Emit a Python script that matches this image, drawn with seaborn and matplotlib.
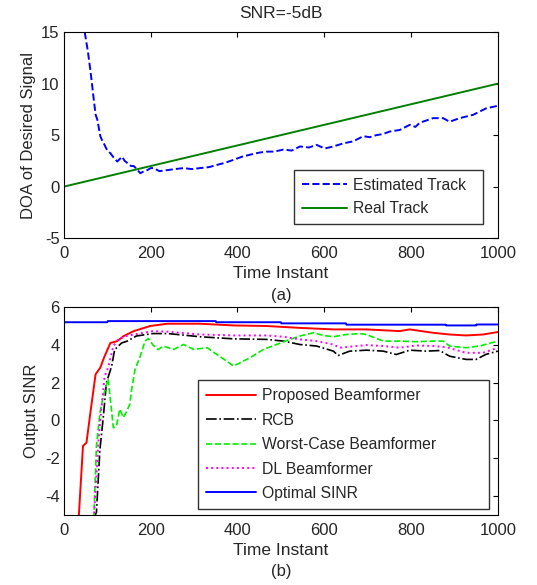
import numpy as np
import pandas as pd
import matplotlib
matplotlib.use("Agg")
import matplotlib.pyplot as plt
import seaborn as sns

# === Data ===
est_t = [48, 55, 61, 69, 73, 77, 84, 88, 92, 100, 107, 115, 123, 134, 140, 146, 155, 161, 170,
         176, 185, 192, 200, 207, 220, 238, 255, 276, 295, 314, 335, 352, 370, 391, 410, 429,
         450, 467, 485, 506, 525, 544, 565, 582, 601, 621, 644, 667, 690, 705, 720, 735, 751,
         774, 797, 810, 820, 851, 874, 889, 912, 943, 973, 1000]
est_doa = [15.0, 13.2, 11.3, 8.4, 7.0, 6.5, 4.9, 4.5, 4.2, 3.5, 3.25, 2.8, 2.44, 2.9, 2.5, 2.3,
           2.0, 2.0, 1.6, 1.3, 1.5, 1.6, 1.8, 1.8, 1.5, 1.6, 1.7, 1.8, 1.7, 1.8, 1.9, 2.1, 2.3,
           2.6, 2.9, 3.1, 3.3, 3.4, 3.4, 3.6, 3.5, 3.9, 3.8, 4.06, 3.7, 3.9, 4.2, 4.4, 4.9,
           4.8, 5.0, 5.1, 5.35, 5.5, 6.0, 5.8, 6.2, 6.65, 6.65, 6.3, 6.65, 6.97, 7.6, 7.85]
real_t = [0, 1000]
real_doa = [0.0, 10.0]

opt_t = [0, 100, 101, 350, 351, 500, 501, 650, 651, 880, 881, 950, 951, 1000]
opt_sinr = [5.2, 5.2, 5.26, 5.26, 5.2, 5.2, 5.14, 5.14, 5.07, 5.07, 5.03, 5.03, 5.08, 5.08]

prop_t = [34, 44, 52, 61, 73, 84, 92, 107, 123, 138, 161, 199, 238, 314, 391, 467, 544, 621,
          697, 774, 797, 851, 889, 927, 966, 1000]
prop_sinr = [-5.2, -1.35, -1.18, 0.4, 2.44, 2.8, 3.3, 4.1, 4.2, 4.47, 4.73, 5.0, 5.12, 5.12,
             5.03, 5.0, 4.9, 4.82, 4.82, 4.73, 4.82, 4.64, 4.55, 4.5, 4.55, 4.68]

rcb_t = [69, 75, 83, 91, 98, 110, 117, 133, 146, 167, 205, 240, 314, 391, 467, 506, 544, 582,
         621, 632, 659, 697, 736, 766, 797, 835, 866, 889, 927, 950, 973, 1000]
rcb_sinr = [-5.2, -4.86, -1.55, 0.22, 2.0, 2.87, 3.75, 4.1, 4.2, 4.47, 4.6, 4.6, 4.43, 4.32,
            4.29, 4.2, 4.02, 3.94, 3.67, 3.44, 3.67, 3.72, 3.67, 3.49, 3.72, 3.67, 3.7, 3.4,
            3.23, 3.23, 3.5, 3.67]

wc_t = [69, 75, 83, 91, 102, 114, 121, 129, 137, 144, 152, 156, 164, 175, 187, 195, 205, 217,
        229, 253, 276, 299, 330, 352, 375, 391, 429, 460, 490, 521, 544, 575, 598, 621, 651,
        682, 697, 736, 774, 812, 851, 874, 889, 927, 958, 1000]
wc_sinr = [-5.2, -1.34, 0.4, 1.3, 2.2, -0.39, -0.3, 0.6, 0.15, 0.45, 0.86, 1.62, 2.7, 3.34,
           4.2, 4.34, 4.0, 3.75, 3.93, 3.76, 4.02, 3.76, 3.85, 3.5, 3.14, 2.88, 3.32, 3.76,
           4.02, 4.29, 4.47, 4.64, 4.5, 4.43, 4.55, 4.6, 4.55, 4.2, 4.2, 4.17, 4.2, 4.2, 3.94,
           3.85, 3.94, 4.2]

dl_t = [69, 80, 87, 94, 102, 114, 125, 144, 183, 205, 240, 314, 391, 467, 506, 544, 582, 621,
        636, 697, 736, 774, 812, 851, 881, 927, 966, 1000]
dl_sinr = [-5.2, -1.0, 0.77, 2.35, 2.8, 3.93, 4.29, 4.47, 4.64, 4.73, 4.7, 4.55, 4.5, 4.5,
           4.43, 4.29, 4.2, 4.02, 3.85, 3.99, 3.94, 3.85, 3.97, 3.94, 3.88, 3.58, 3.58, 3.85]

# === Style (Matlab-like) ===
sns.set_style("white")
plt.rcParams["font.family"] = ["Liberation Sans", "DejaVu Sans"]
plt.rcParams["axes.unicode_minus"] = False
plt.rcParams["xtick.direction"] = "in"
plt.rcParams["ytick.direction"] = "in"
plt.rcParams["xtick.top"] = True
plt.rcParams["ytick.right"] = True
plt.rcParams["xtick.major.size"] = 3.5
plt.rcParams["ytick.major.size"] = 3.5

fig = plt.figure(figsize=(5.37, 5.85), dpi=100)
ax1 = fig.add_axes([0.119, 0.593, 0.808, 0.352])
ax2 = fig.add_axes([0.119, 0.120, 0.808, 0.355])

# === Top panel: DOA tracking ===
sns.lineplot(x=est_t, y=est_doa, ax=ax1, color="#0000ff", lw=1.4, linestyle="--",
             label="Estimated Track", sort=False)
sns.lineplot(x=real_t, y=real_doa, ax=ax1, color="#008000", lw=1.4, label="Real Track")
ax1.set_xlim(0, 1000)
ax1.set_ylim(-5, 15)
ax1.set_yticks([-5, 0, 5, 10, 15])
ax1.set_xticks([0, 200, 400, 600, 800, 1000])
ax1.set_title("SNR=-5dB", fontsize=12.5, pad=10)
ax1.set_xlabel("Time Instant", fontsize=12.5, labelpad=3.5)
ax1.set_ylabel("DOA of Desired Signal", fontsize=12, labelpad=4)
leg1 = ax1.legend(loc="lower left", bbox_to_anchor=(0.530, 0.068, 0.4355, 0.3), mode="expand",
                  borderaxespad=0, fontsize=11.3, frameon=True, fancybox=False,
                  handlelength=2.87, handletextpad=0.4, borderpad=0.5, labelspacing=0.55)
leg1.get_frame().set_edgecolor("black")
leg1.get_frame().set_linewidth(1.0)
ax1.text(0.5, -0.277, "(a)", transform=ax1.transAxes, ha="center", va="center", fontsize=12)

# === Bottom panel: output SINR ===
sns.lineplot(x=prop_t, y=prop_sinr, ax=ax2, color="#ff0000", lw=1.4, label="Proposed Beamformer")
sns.lineplot(x=rcb_t, y=rcb_sinr, ax=ax2, color="black", lw=1.2, linestyle="-.", label="RCB")
sns.lineplot(x=wc_t, y=wc_sinr, ax=ax2, color="#00ee00", lw=1.2, linestyle="--",
             label="Worst-Case Beamformer")
sns.lineplot(x=dl_t, y=dl_sinr, ax=ax2, color="#ff00ff", lw=1.4, linestyle=":", label="DL Beamformer")
sns.lineplot(x=opt_t, y=opt_sinr, ax=ax2, color="#0000ff", lw=1.4, label="Optimal SINR")
ax2.set_xlim(0, 1000)
ax2.set_ylim(-5, 6)
ax2.set_yticks([-4, -2, 0, 2, 4, 6])
ax2.set_xticks([0, 200, 400, 600, 800, 1000])
ax2.set_xlabel("Time Instant", fontsize=12.5, labelpad=3.5)
ax2.set_ylabel("Output SINR", fontsize=12, labelpad=4)
leg2 = ax2.legend(loc="lower left", bbox_to_anchor=(0.3088, 0.0288, 0.6705, 0.6), mode="expand",
                  borderaxespad=0, fontsize=11.3, frameon=True, fancybox=False,
                  handlelength=3.2, handletextpad=0.4, borderpad=0.5, labelspacing=0.6)
leg2.get_frame().set_edgecolor("black")
leg2.get_frame().set_linewidth(1.0)
ax2.text(0.5, -0.275, "(b)", transform=ax2.transAxes, ha="center", va="center", fontsize=12)

for ax in (ax1, ax2):
    ax.tick_params(labelsize=12, color="black", width=0.8)
    ax.tick_params(axis="x", pad=6)
    ax.tick_params(axis="y", pad=3)
    for s in ax.spines.values():
        s.set_color("black")
        s.set_linewidth(0.8)

fig.savefig("out.png", dpi=100, facecolor="white")
